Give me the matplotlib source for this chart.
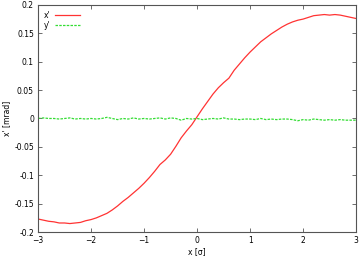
import matplotlib
matplotlib.use("Agg")
import matplotlib.pyplot as plt
import numpy as np

# beam position in units of sigma
xs = [-3.0 + 0.1 * i for i in range(61)]

# x' [mrad]
xp = [-0.177, -0.179, -0.181, -0.182, -0.184, -0.184, -0.185, -0.184, -0.183, -0.180,
      -0.178, -0.175, -0.171, -0.167, -0.161, -0.154, -0.146, -0.139, -0.131, -0.123,
      -0.114, -0.104, -0.093, -0.081, -0.073, -0.063, -0.049, -0.034, -0.022, -0.011,
      0.003, 0.017, 0.030, 0.043, 0.054, 0.063, 0.071, 0.085, 0.096, 0.107,
      0.117, 0.126, 0.135, 0.142, 0.149, 0.155, 0.161, 0.166, 0.170, 0.173,
      0.175, 0.178, 0.181, 0.182, 0.183, 0.182, 0.183, 0.182, 0.180, 0.178,
      0.176]

# y' [mrad]
yp = [0.000, 0.001, 0.000, 0.000, -0.001, 0.000, 0.001, -0.001, 0.000, -0.001,
      0.000, -0.001, 0.000, 0.002, 0.000, -0.002, 0.000, -0.001, 0.001, -0.001,
      0.000, -0.001, 0.000, 0.001, -0.001, 0.001, 0.000, -0.003, 0.000, -0.001,
      0.000, -0.002, -0.001, 0.000, -0.001, 0.001, -0.001, -0.001, -0.002, -0.001,
      -0.001, -0.002, 0.000, -0.002, -0.001, -0.002, -0.001, -0.001, -0.002, -0.004,
      -0.002, -0.003, -0.001, -0.002, -0.003, -0.002, -0.003, -0.002, -0.003, -0.003,
      -0.003]

fig = plt.figure(figsize=(3.59, 2.57), dpi=100)
ax = fig.add_axes([0.106, 0.097, 0.886, 0.884])

ax.plot(xs, xp, color="#ff3333", lw=0.9, label="x'")
ax.plot(xs, yp, color="#33dd33", lw=0.9, ls=(0, (2, 1)), label="y'")

ax.set_xlim(-3, 3)
ax.set_ylim(-0.2, 0.2)
ax.set_xticks([-3, -2, -1, 0, 1, 2, 3])
ax.set_yticks([-0.2, -0.15, -0.1, -0.05, 0, 0.05, 0.1, 0.15, 0.2])
ax.set_yticklabels(["-0.2", "-0.15", "-0.1", "-0.05", "0", "0.05", "0.1", "0.15", "0.2"])
ax.tick_params(direction="in", top=True, right=True, labelsize=5.5, length=3,
               width=0.6, color="#555555", pad=3)
for s in ax.spines.values():
    s.set_color("#555555")
    s.set_linewidth(0.8)

ax.set_xlabel("x [σ]", fontsize=5.5, labelpad=1)
ax.set_ylabel("x' [mrad]", fontsize=5.5, labelpad=2)

ax.legend(loc="upper left", frameon=False, fontsize=5.5, handlelength=3.2,
          borderpad=0.3, labelspacing=0.1, handletextpad=0.6,
          markerfirst=False, bbox_to_anchor=(0.0, 1.0))

fig.savefig("out.png", dpi=100)
